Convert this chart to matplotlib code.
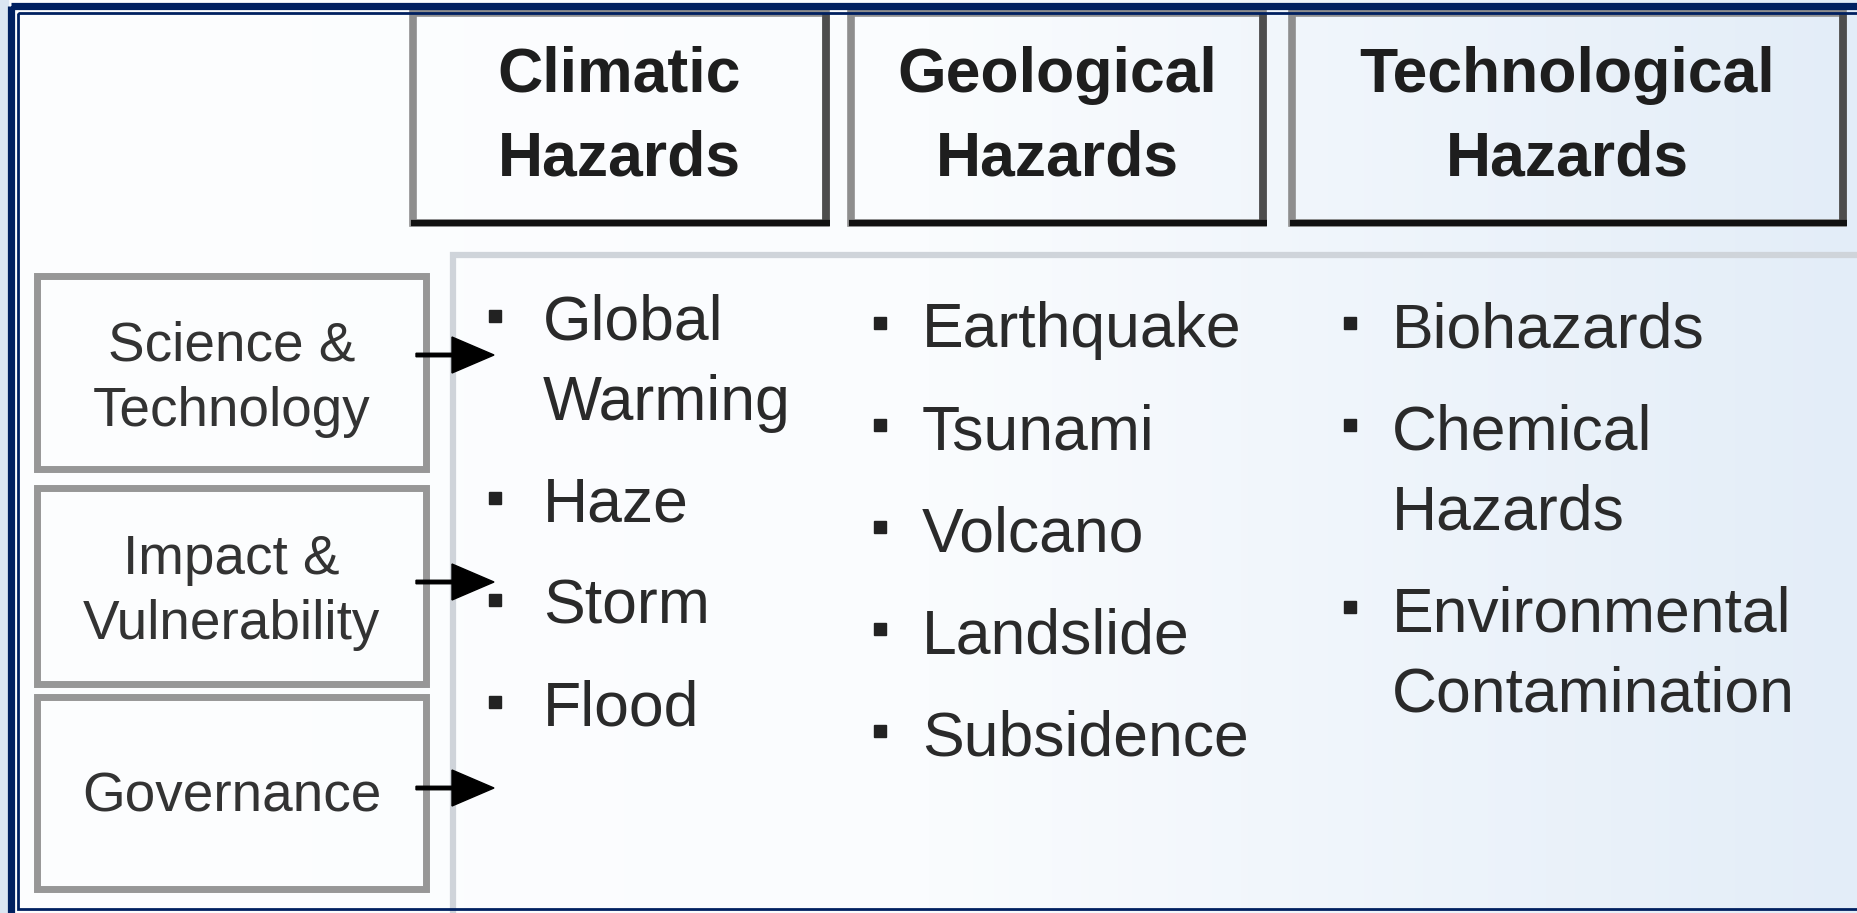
import numpy as np
import matplotlib.pyplot as plt
from matplotlib.patches import Rectangle
from matplotlib.colors import LinearSegmentedColormap

plt.rcParams['font.family'] = ['Liberation Sans', 'DejaVu Sans']

# content of the diagram
hazard_types = ["Climatic\nHazards", "Geological\nHazards", "Technological\nHazards"]
climatic = ["Global\nWarming", "Haze", "Storm", "Flood"]
geological = ["Earthquake", "Tsunami", "Volcano", "Landslide", "Subsidence"]
technological = ["Biohazards", "Chemical\nHazards", "Environmental\nContamination"]
drivers = ["Science &\nTechnology", "Impact &\nVulnerability", "Governance"]

# layout (pixel units of the 1858x913 canvas)
W, H = 1858, 913
header_x = [(413, 826), (851, 1263), (1292, 1843)]
header_y = (13, 223)
driver_x = (37, 426)
driver_y = [(276, 469), (488, 684), (697, 889)]
arrow_y = [355, 582, 788]
col_bullet_x = [495, 880, 1350]
col_text_x = [543, 922, 1392]
col_start = [340, 347, 347]
item_gap, line_gap = 102, 80

fig = plt.figure(figsize=(W / 100, H / 100), dpi=100)
ax = fig.add_axes([0, 0, 1, 1])
ax.set_xlim(0, W)
ax.set_ylim(H, 0)
ax.axis('off')

# background gradient
cmap = LinearSegmentedColormap.from_list('bg', ['#fdfeff', '#fafcfe', '#e3edf8'])
grad = np.linspace(0, 1, 256).reshape(1, -1)
ax.imshow(grad, cmap=cmap, extent=(0, W, H, 0), aspect='auto', zorder=0)
ax.add_patch(Rectangle((0, 0), 8, H, color='#dbe6f2', zorder=1))

# outer navy double border
ax.add_patch(Rectangle((11.5, 6.5), W + 20, 912, fill=False, ec='#002060', lw=5.2, zorder=5))
ax.add_patch(Rectangle((18.5, 13.5), W + 20, 896, fill=False, ec='#002060', lw=2.0, zorder=5))

# content panel edge
ax.plot([453, 453, W + 10], [H + 10, 255, 255], color='#cfd4da', lw=4.5, zorder=2,
        solid_joinstyle='miter')

# header boxes
for (x0, x1), label in zip(header_x, hazard_types):
    y0, y1 = header_y
    ax.add_patch(Rectangle((x0, y0), x1 - x0, y1 - y0, fill=False, ec='#8e8e8e', lw=5.5, zorder=3))
    ax.plot([x1, x1], [y0, y1], color='#4d4d4d', lw=5.5, zorder=4, solid_capstyle='butt')
    ax.plot([x0 - 2, x1 + 4], [y1, y1], color='#111111', lw=4.5, zorder=4, solid_capstyle='butt')
    cx = (x0 + x1) / 2
    for k, line in enumerate(label.split("\n")):
        ax.text(cx, 92 + 83 * k, line, ha='center', va='baseline', fontsize=45,
                fontweight='bold', color='#1e1e1e', zorder=6)

# driver boxes and arrows
for (y0, y1), label, ay in zip(driver_y, drivers, arrow_y):
    x0, x1 = driver_x
    ax.add_patch(Rectangle((x0, y0), x1 - x0, y1 - y0, fill=False, ec='#979797', lw=5, zorder=3))
    cy = (y0 + y1) / 2
    lines = label.split("\n")
    if len(lines) == 1:
        base = [cy + 18]
    else:
        base = [cy - 12, cy + 53]
    for line, b in zip(lines, base):
        ax.text((x0 + x1) / 2, b, line, ha='center', va='baseline', fontsize=39.5,
                color='#333333', zorder=6)
    ax.arrow(416, ay, 78, 0, width=3.5, head_width=36, head_length=42,
             length_includes_head=True, color='black', zorder=6)

# bullet lists
for items, bx, tx, y in zip([climatic, geological, technological],
                            col_bullet_x, col_text_x, col_start):
    for item in items:
        ax.plot(bx, y - 24, marker='s', ms=9, color='#222222', zorder=6)
        lines = item.split("\n")
        for k, line in enumerate(lines):
            ax.text(tx, y + line_gap * k, line, ha='left', va='baseline', fontsize=45,
                    color='#2a2a2a', zorder=6)
        y += line_gap * (len(lines) - 1) + item_gap

fig.savefig('out.png', dpi=100)
